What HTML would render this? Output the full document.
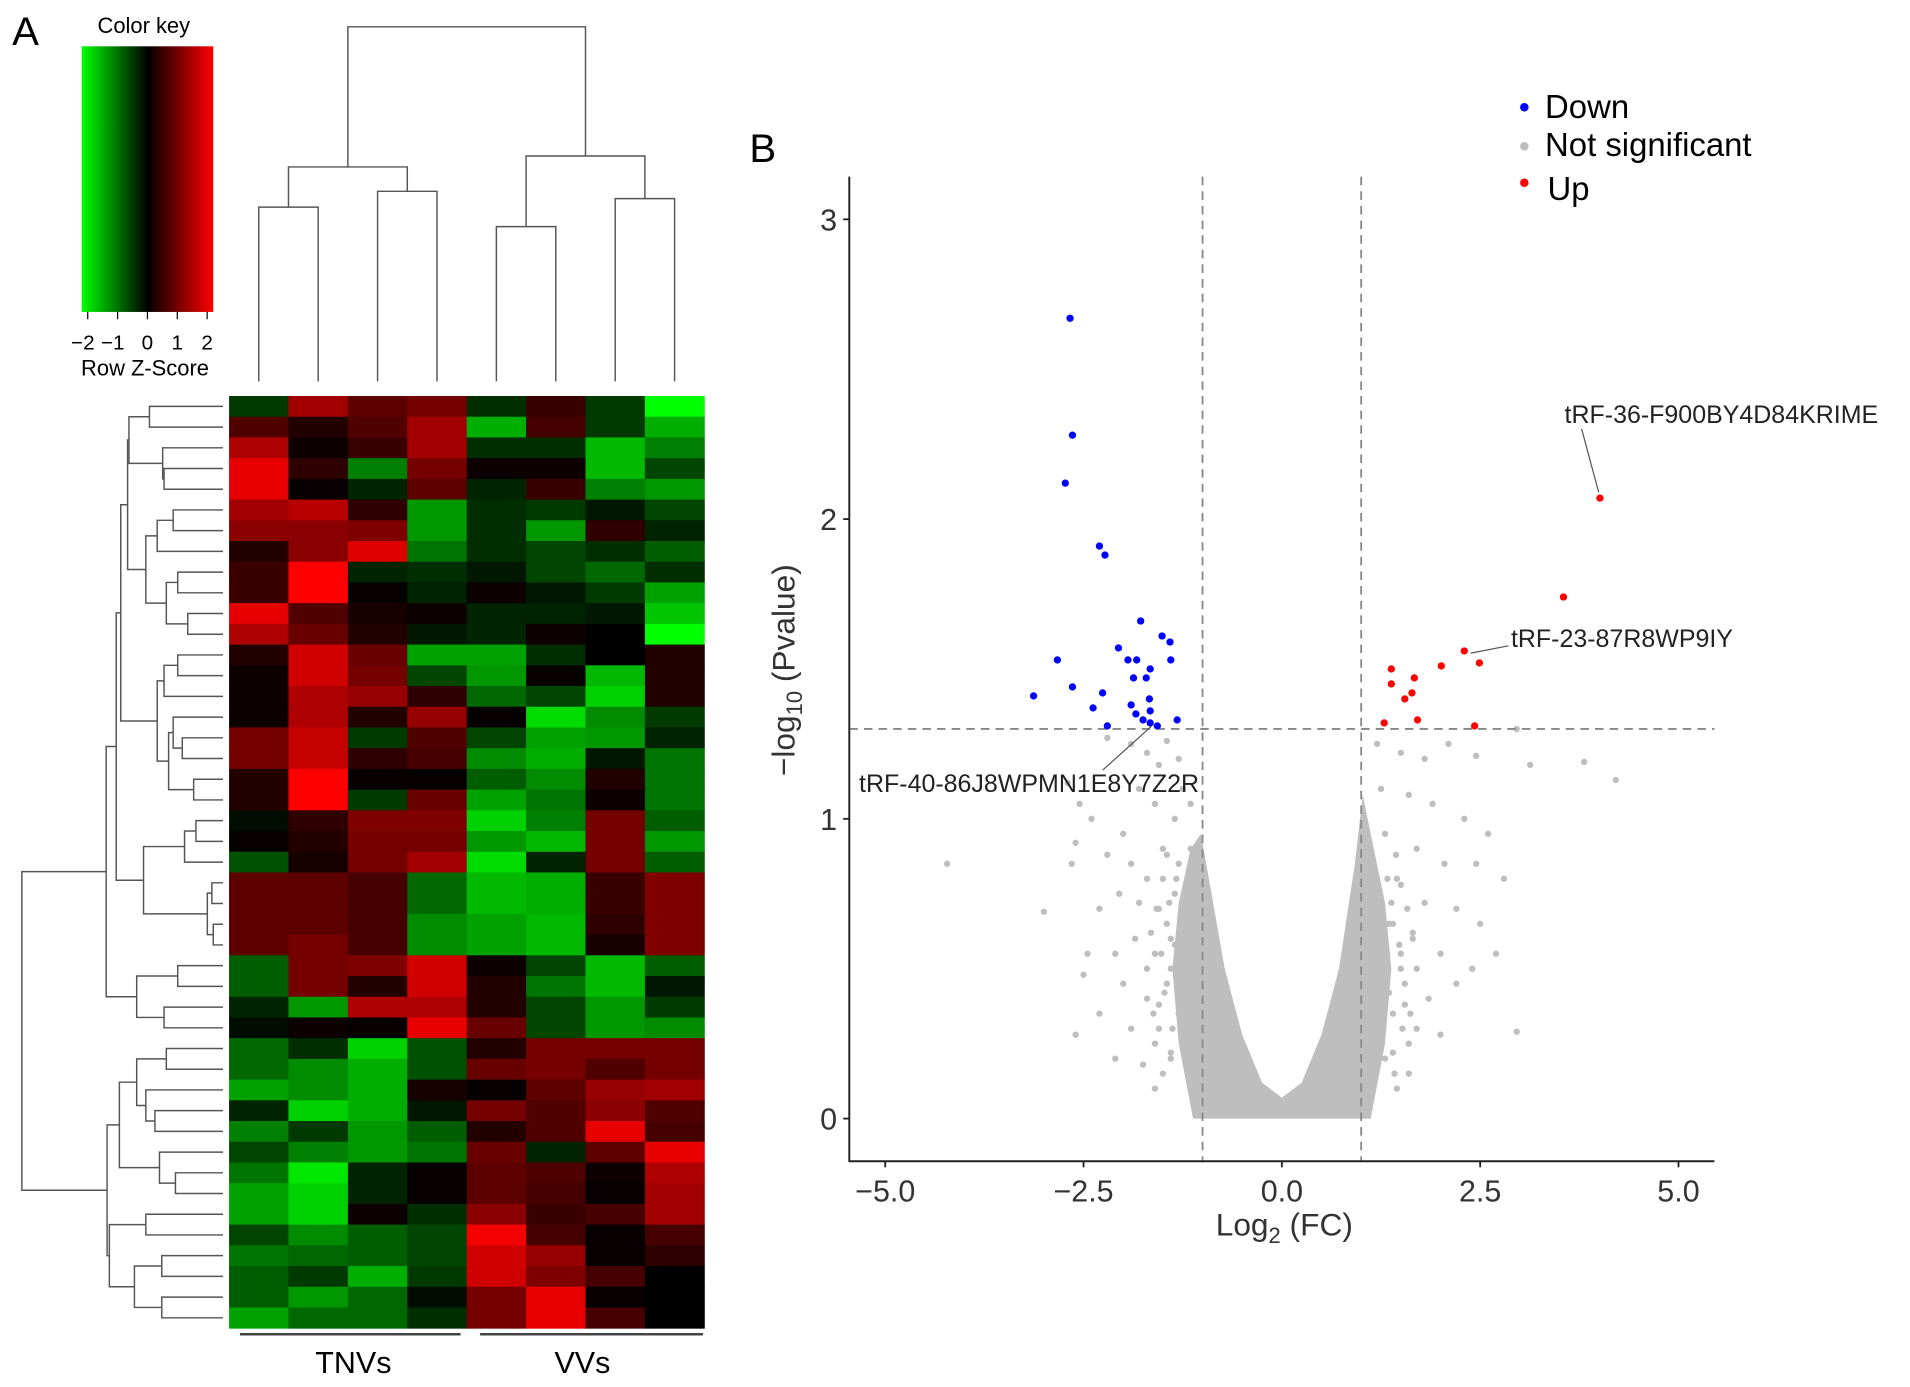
<!DOCTYPE html>
<html><head><meta charset="utf-8"><style>
body{margin:0;background:#fff;}
svg{display:block;font-family:"Liberation Sans",Arial,sans-serif;}
</style></head><body>
<svg id="fig" width="1910" height="1387" viewBox="0 0 1910 1387">
<defs>
<linearGradient id="ck" x1="0" x2="1" y1="0" y2="0">
<stop offset="0" stop-color="#00ff00"/><stop offset="0.5" stop-color="#000"/><stop offset="1" stop-color="#ff0000"/>
</linearGradient>
</defs>
<g id="root" transform="scale(1.2185)">
<text x="10" y="37" font-size="33">A</text>
<text x="615" y="133" font-size="33">B</text>
<g>
<text x="118" y="27" font-size="18" text-anchor="middle">Color key</text>
<rect x="67" y="38" width="108" height="218" fill="url(#ck)"/>
<g id="ckticks" stroke="#000" stroke-width="1"></g>
<g id="cklabels" font-size="17" text-anchor="middle"></g>
<text x="119" y="308" font-size="18" text-anchor="middle">Row Z-Score</text>
</g>
<g id="heat"></g>
<g id="coldendro" stroke="#555" stroke-width="1.2" fill="none"></g>
<g id="rowdendro" stroke="#555" stroke-width="1.2" fill="none"></g>
<line x1="197" y1="1095" x2="378" y2="1095" stroke="#444" stroke-width="2"/>
<line x1="394" y1="1095" x2="577" y2="1095" stroke="#444" stroke-width="2"/>
<text x="290" y="1127" font-size="25" text-anchor="middle">TNVs</text>
<text x="478" y="1127" font-size="25" text-anchor="middle">VVs</text>
<g id="volcano"></g>
</g>
</svg>
<script>
// ---------- heatmap data ----------
const heatRows = [
[-0.5,1.4,0.8,1.0,-0.4,0.5,-0.5,-2.2],
[0.7,0.3,0.7,1.4,-1.5,0.6,-0.5,-1.5],
[1.5,0.1,0.5,1.4,-0.4,-0.4,-1.6,-1.1],
[2.0,0.4,-1.1,1.0,0.1,0.1,-1.6,-0.6],
[2.0,0.05,-0.3,0.8,-0.3,0.5,-1.1,-1.3],
[1.4,1.6,0.4,-1.3,-0.4,-0.5,-0.2,-0.6],
[1.2,1.2,1.1,-1.3,-0.4,-1.3,0.4,-0.3],
[0.3,1.2,1.9,-1.0,-0.4,-0.6,-0.4,-0.8],
[0.5,2.2,-0.3,-0.4,-0.2,-0.6,-0.9,-0.4],
[0.5,2.2,0.05,-0.3,0.1,-0.2,-0.5,-1.4],
[2.0,0.7,0.2,0.1,-0.3,-0.3,-0.2,-1.7],
[1.5,0.9,0.3,-0.2,-0.3,0.1,0.0,-2.2],
[0.3,1.8,0.9,-1.4,-1.4,-0.4,0,0.3],
[0.1,1.8,1.0,-0.6,-1.3,0.05,-1.6,0.3],
[0.1,1.5,1.3,0.4,-0.9,-0.6,-1.8,0.3],
[0.1,1.5,0.3,1.3,0.05,-1.9,-1.2,-0.5],
[1.0,1.7,-0.5,0.7,-0.6,-1.4,-1.3,-0.3],
[1.0,1.7,0.4,0.6,-1.2,-1.5,-0.2,-1.0],
[0.3,2.2,0.05,0.05,-0.8,-1.2,0.3,-1.0],
[0.3,2.2,-0.5,0.9,-1.4,-1.0,0.1,-1.0],
[-0.1,0.4,1.1,1.1,-1.8,-1.1,1.0,-0.8],
[0.05,0.3,1.0,1.0,-1.3,-1.6,1.0,-1.3],
[-0.7,0.2,1.0,1.4,-1.9,-0.3,1.0,-0.8],
[0.8,0.8,0.6,-0.9,-1.6,-1.5,0.5,1.1],
[0.8,0.8,0.6,-0.9,-1.6,-1.5,0.5,1.1],
[0.8,0.8,0.6,-1.2,-1.4,-1.6,0.4,1.1],
[0.8,1.0,0.6,-1.2,-1.4,-1.6,0.2,1.1],
[-0.8,1.0,1.1,1.8,0.1,-0.6,-1.6,-0.8],
[-0.8,1.0,0.3,1.8,0.3,-1.0,-1.6,-0.2],
[-0.3,-1.3,1.5,1.5,0.3,-0.6,-1.3,-0.5],
[-0.1,0.1,0.05,2.0,0.9,-0.6,-1.3,-1.2],
[-0.9,-0.4,-1.8,-0.7,0.3,1.0,1.0,1.0],
[-0.9,-1.2,-1.5,-0.7,0.9,1.0,0.7,1.0],
[-1.4,-1.2,-1.5,0.2,0.05,0.8,1.3,1.4],
[-0.3,-1.8,-1.5,-0.2,1.0,0.7,1.2,0.7],
[-1.1,-0.5,-1.3,-0.8,0.3,0.7,2.0,0.6],
[-0.6,-1.1,-1.3,-1.0,0.9,-0.3,0.8,2.0],
[-1.0,-2.0,-0.3,0.05,0.8,0.7,0.1,1.5],
[-1.4,-1.8,-0.3,0.05,0.8,0.6,0.05,1.4],
[-1.4,-1.8,0.1,-0.4,1.2,0.5,0.6,1.4],
[-0.6,-1.2,-0.8,-0.6,2.1,0.6,0.05,0.6],
[-1.0,-0.9,-0.8,-0.6,1.8,1.3,0.05,0.4],
[-0.8,-0.5,-1.5,-0.5,1.8,1.1,0.6,0.0],
[-0.8,-1.3,-0.9,-0.1,1.0,2.0,0.05,0.0],
[-1.4,-0.9,-0.9,-0.4,1.0,2.0,0.6,0.0]
];
const colTree = [22,[137,[170,0,1],[157,2,3]],[128,[186,4,5],[163,6,7]]];
const rowTree = [48,
 [233,[255,[265,[280,[283,[328,0,1],[357,2,[360,3,4]]],[320,[345,[380,5,6],7],[365,[390,8,9],[412,10,11]]]],
             [345,[360,[390,12,13],14],[370,[380,15,[400,16,17]],[425,18,19]]]],
        [315,[405,[430,20,21],22],[455,[465,23,24],[468,25,26]]]],
   [300,[390,27,28],[360,29,30]]],
 [235,[262,[300,[365,31,32],[320,33,[340,34,35]]],[350,36,[385,37,38]]],
   [240,[320,39,40],[295,[355,41,42],[355,43,44]]]]];

// ---------- volcano data ----------
const downX=[-2.67,-2.64,-2.73,-2.30,-2.23,-1.78,-2.06,-1.51,-1.41,-2.83,-1.94,-1.83,-1.66,-1.71,-1.40,-1.87,-2.64,-3.13,-1.67,-2.26,-2.38,-1.90,-1.84,-1.66,-1.32,-2.20,-1.75,-1.66,-1.57];
const downY=[2.67,2.28,2.12,1.91,1.88,1.66,1.57,1.61,1.59,1.53,1.53,1.53,1.50,1.47,1.53,1.47,1.44,1.41,1.40,1.42,1.37,1.38,1.35,1.36,1.33,1.31,1.33,1.32,1.31];
const upX=[4.01,3.55,2.30,2.49,2.01,1.38,1.67,1.38,1.64,1.55,1.71,1.29,2.43];
const upY=[2.07,1.74,1.56,1.52,1.51,1.50,1.47,1.45,1.42,1.40,1.33,1.32,1.31];
const nsX=[-2.2,-1.9,-1.7,-1.55,-1.45,-1.3,-1.25,-1.15,-1.35,-1.6,-1.8,-2.0,-2.4,-2.7,-2.6,-2.2,-1.9,-1.7,-1.5,-1.3,-2.05,-1.8,-1.55,-1.35,-2.3,-2.45,-2.1,-1.85,-1.6,-1.4,-2.5,-2.0,-1.7,-1.45,-2.3,-1.9,-1.55,-2.6,-2.1,-1.75,-1.4,-1.6,-1.3,-1.2,-1.15,-4.22,-3.0,-2.65,-2.55,
 -1.5,-1.45,-1.4,-1.55,-1.6,-1.5,-1.42,-1.35,-1.65,-1.48,-1.38,-1.7,-1.58,-1.28,-1.45,-1.52,-1.62,-1.33,-1.4,-1.25,
 1.2,1.5,1.8,2.1,2.45,2.96,3.13,3.81,4.21,1.25,1.6,1.9,2.3,2.6,1.3,1.7,2.05,2.45,2.8,1.2,1.5,1.8,2.2,2.5,1.35,1.65,2.0,2.4,1.3,1.55,1.85,2.2,1.4,1.7,2.0,1.3,1.6,2.96,2.7,1.15,1.1,1.45,
 1.45,1.4,1.5,1.55,1.6,1.42,1.38,1.48,1.65,1.35,1.52,1.7,1.58,1.28,1.44,1.5,1.62,1.33,1.4,1.25];
const nsY=[1.27,1.25,1.22,1.18,1.26,1.2,1.1,1.05,1.0,1.05,1.1,0.95,1.0,1.12,0.92,0.88,0.85,0.8,0.9,0.85,0.75,0.72,0.7,0.75,0.7,0.55,0.55,0.6,0.55,0.6,0.48,0.45,0.4,0.45,0.35,0.3,0.3,0.28,0.2,0.18,0.2,0.1,0.35,0.6,0.9,0.85,0.69,0.85,1.05,
 0.8,0.65,0.5,0.38,0.25,0.15,0.72,0.58,0.62,0.42,0.3,0.5,0.7,0.45,0.88,0.55,0.35,0.8,0.22,0.65,
 1.25,1.22,1.2,1.25,1.21,1.3,1.18,1.19,1.13,1.1,1.08,1.05,1.0,0.95,0.95,0.9,0.85,0.85,0.8,0.8,0.78,0.72,0.7,0.65,0.65,0.6,0.55,0.5,0.5,0.45,0.4,0.45,0.35,0.3,0.28,0.2,0.15,0.29,0.55,0.55,0.3,0.1,
 0.8,0.65,0.5,0.38,0.25,0.15,0.72,0.58,0.62,0.42,0.3,0.5,0.7,0.45,0.88,0.55,0.35,0.8,0.22,0.65];
const coreX=[-1.12,-1.3,-1.38,-1.3,-1.15,-1.02,-0.92,-0.72,-0.5,-0.25,0,0.25,0.5,0.72,0.92,1.02,1.12,1.3,1.38,1.3,1.12];
const coreY=[0,0.25,0.5,0.72,0.9,0.95,0.8,0.5,0.28,0.12,0.07,0.12,0.28,0.5,0.85,1.08,0.95,0.72,0.5,0.25,0];
const xTicks=[-5.0,-2.5,0.0,2.5,5.0];
const yTicks=[0,1,2,3];
const keyTicks=[-2,-1,0,1,2];
const fcCut=[-1,1], pCut=1.3;

const NS="http://www.w3.org/2000/svg";
function mk(tag,attrs,parent){const e=document.createElementNS(NS,tag);for(const k in attrs)e.setAttribute(k,attrs[k]);parent.appendChild(e);return e;}

const ckt=document.getElementById('ckticks'), ckl=document.getElementById('cklabels');
keyTicks.forEach(v=>{const x=121+v*24.5;mk('line',{x1:x,y1:256,x2:x,y2:262},ckt);
 const t=mk('text',{x:x-(v<0?4:0),y:287},ckl);t.textContent=(v<0?'−':'')+Math.abs(v);});

const heat=document.getElementById('heat');
const hx0=188,hy0=325,cw=390/8,rh=765/heatRows.length;
function zcol(v){v=Math.max(-2.2,Math.min(2.2,v));const c=Math.round(Math.abs(v)/2.2*255);return v>=0?`rgb(${c},0,0)`:`rgb(0,${c},0)`;}
heatRows.forEach((row,i)=>row.forEach((v,j)=>{
 const r=mk('rect',{x:hx0+j*cw,y:hy0+i*rh,width:cw+0.4,height:rh+0.4,fill:zcol(v)},heat);
 
 
}));

const cd=document.getElementById('coldendro');
const leafY=313;
function drawCol(n){ if(typeof n==='number') return {x:hx0+(n+0.5)*cw,y:leafY};
 const a=drawCol(n[1]),b=drawCol(n[2]),h=n[0];
 mk('path',{d:`M${a.x},${a.y}V${h}H${b.x}V${b.y}`},cd);
 return {x:(a.x+b.x)/2,y:h};}
drawCol(colTree);

const rd=document.getElementById('rowdendro');
const leafX=183;
function drawRow(n){ if(typeof n==='number') return {y:hy0+(n+0.5)*rh,x:leafX};
 const a=drawRow(n[1]),b=drawRow(n[2]),h=n[0]/2.674;
 mk('path',{d:`M${a.x},${a.y}H${h}V${b.y}H${b.x}`},rd);
 return {y:(a.y+b.y)/2,x:h};}
drawRow(rowTree);

const vg=document.getElementById('volcano');
const X=v=>1052+v*65.1, Y=v=>918-v*246;
const L=697,R=1407,T=145,B=953;
let d='';coreX.forEach((x,i)=>{d+=(i?'L':'M')+X(x)+','+Y(coreY[i]);});
const core=mk('path',{d:d+'Z',fill:'#bebebe'},vg);


nsX.forEach((x,i)=>{const c=mk('circle',{cx:X(x),cy:Y(nsY[i]),r:2.6,fill:'#bebebe'},vg);
 
 });
fcCut.forEach(v=>{const l=mk('line',{x1:X(v),x2:X(v),y1:T,y2:B,stroke:'#888','stroke-width':1.5,'stroke-dasharray':'7 5'},vg);
 
 });
const hl=mk('line',{x1:L,x2:R,y1:Y(pCut),y2:Y(pCut),stroke:'#888','stroke-width':1.5,'stroke-dasharray':'7 5'},vg);


downX.forEach((x,i)=>{const c=mk('circle',{cx:X(x),cy:Y(downY[i]),r:3,fill:'#0000ff'},vg);
 
 });
upX.forEach((x,i)=>{const c=mk('circle',{cx:X(x),cy:Y(upY[i]),r:3,fill:'#ff0000'},vg);
 
 });
const ax=mk('path',{d:`M${L},${T}V${B}H${R}`,stroke:'#222','stroke-width':1.6,fill:'none'},vg);


yTicks.forEach(v=>{mk('line',{x1:L-5,x2:L,y1:Y(v),y2:Y(v),stroke:'#222','stroke-width':1.5},vg);
 const t=mk('text',{x:L-10,y:Y(v)+9,'font-size':25,'text-anchor':'end',fill:'#333'},vg);t.textContent=v;
 
 });
xTicks.forEach(v=>{mk('line',{x1:X(v),x2:X(v),y1:B,y2:B+5,stroke:'#222','stroke-width':1.5},vg);
 const t=mk('text',{x:X(v),y:B+33,'font-size':25,'text-anchor':'middle',fill:'#333'},vg);t.textContent=(v<0?'−':'')+Math.abs(v).toFixed(1);
 
 });
</script>
<script>
(function(){
const vg=document.getElementById('volcano');
vg.insertAdjacentHTML('beforeend',`
<text x="1054" y="1014" font-size="26" text-anchor="middle" fill="#333">Log<tspan font-size="18" dy="6">2</tspan><tspan dy="-6"> (FC)</tspan></text>
<text transform="translate(652,550) rotate(-90)" font-size="26" text-anchor="middle" fill="#333">−log<tspan font-size="18" dy="6">10</tspan><tspan dy="-6"> (Pvalue)</tspan></text>
<g>
<circle cx="1251" cy="88" r="3.5" fill="#0000ff"/>
<text x="1268" y="97" font-size="27">Down</text>
<circle cx="1251" cy="120" r="3.5" fill="#bebebe"/>
<text x="1268" y="128" font-size="27">Not significant</text>
<circle cx="1251" cy="150" r="3.5" fill="#ff0000"/>
<text x="1270" y="164" font-size="27">Up</text>
</g>
<text x="1284" y="347" font-size="20.5" fill="#222">tRF-36-F900BY4D84KRIME</text>
<line x1="1298" y1="352" x2="1312" y2="404" stroke="#555" stroke-width="1"/>
<text x="1240" y="531" font-size="20.5" fill="#222">tRF-23-87R8WP9IY</text>
<line x1="1238" y1="530" x2="1207" y2="536" stroke="#555" stroke-width="1"/>
<text x="705" y="650" font-size="20.5" fill="#222">tRF-40-86J8WPMN1E8Y7Z2R</text>
<line x1="905" y1="632" x2="945" y2="596" stroke="#555" stroke-width="1"/>
`);
})();
</script>
</body></html>
